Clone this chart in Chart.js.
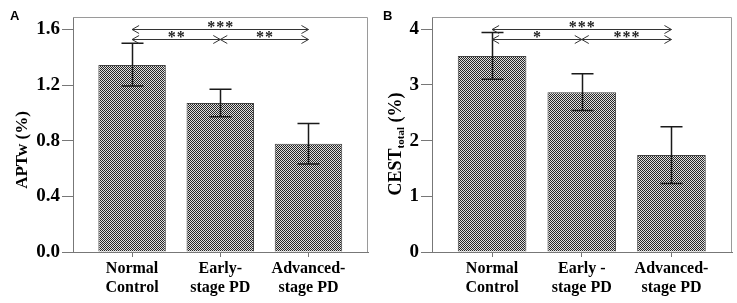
<!DOCTYPE html>
<html>
<head>
<meta charset="utf-8">
<script src="https://cdn.jsdelivr.net/npm/chart.js@4"></script>
<style>
  body { margin: 0; background: #fff; }
  .wrap { display: flex; }
  canvas { display: block; }
</style>
</head>
<body>
<div class="wrap">
  <canvas id="APTWchart" width="370" height="303"></canvas>
  <canvas id="CESTchart" width="367" height="303"></canvas>
</div>
<script>
const categoriesA = [['Normal', 'Control'], ['Early-', 'stage PD'], ['Advanced-', 'stage PD']];
const categoriesB = [['Normal', 'Control'], ['Early -', 'stage PD'], ['Advanced-', 'stage PD']];

const aptwMean = [1.345, 1.072, 0.778];
const aptwLow = [1.194, 0.973, 0.632];
const aptwHigh = [1.502, 1.170, 0.925];

const cestMean = [3.52, 2.87, 1.74];
const cestLow = [3.10, 2.54, 1.23];
const cestHigh = [3.94, 3.20, 2.25];

const yTicksA = [0, 0.4, 0.8, 1.2, 1.6];
const yTicksB = [0, 1, 2, 3, 4];

// significance brackets: [from, to, level, stars]
const sigA = [[0, 2, 1.605, '***'], [0, 1, 1.535, '**'], [1, 2, 1.535, '**']];
const sigB = [[0, 2, 4.0, '***'], [0, 1, 3.82, '*'], [1, 2, 3.82, '***']];

const serif = '"Liberation Serif", "Times New Roman", serif';

// fine checker fill like the original bars
function makePattern() {
  const tile = document.createElement('canvas');
  tile.width = 2;
  tile.height = 2;
  const t = tile.getContext('2d');
  t.fillStyle = '#e0e0e0';
  t.fillRect(0, 0, 2, 2);
  t.fillStyle = '#262626';
  t.fillRect(0, 0, 1, 1);
  t.fillRect(1, 1, 1, 1);
  return t.createPattern(tile, 'repeat');
}

function arrowHead(ctx, x, y, dir) {
  ctx.moveTo(x - dir * 7, y - 4);
  ctx.lineTo(x, y);
  ctx.lineTo(x - dir * 7, y + 4);
}

function panelPlugin(cfg) {
  return {
    id: 'panel' + cfg.letter,
    afterDraw(chart) {
      const ctx = chart.ctx;
      const area = chart.chartArea;
      const xs = chart.scales.x;
      const ys = chart.scales.y;
      ctx.save();

      // top and right side of the frame
      ctx.strokeStyle = '#9a9a9a';
      ctx.lineWidth = 1;
      ctx.beginPath();
      ctx.moveTo(area.left, area.top + 0.5);
      ctx.lineTo(area.right - 0.5, area.top + 0.5);
      ctx.lineTo(area.right - 0.5, area.bottom);
      ctx.stroke();

      // error bars
      ctx.strokeStyle = '#1a1a1a';
      ctx.lineWidth = 1.5;
      cfg.low.forEach((lo, i) => {
        const x = Math.round(xs.getPixelForValue(i)) + 0.5;
        const yLo = ys.getPixelForValue(lo);
        const yHi = ys.getPixelForValue(cfg.high[i]);
        ctx.beginPath();
        ctx.moveTo(x, yLo);
        ctx.lineTo(x, yHi);
        ctx.moveTo(x - 11, yLo);
        ctx.lineTo(x + 11, yLo);
        ctx.moveTo(x - 11, yHi);
        ctx.lineTo(x + 11, yHi);
        ctx.stroke();
      });

      // brackets with arrows and stars
      ctx.strokeStyle = '#333';
      ctx.lineWidth = 1;
      ctx.fillStyle = '#222';
      ctx.font = 'bold 16px ' + serif;
      ctx.textAlign = 'center';
      ctx.textBaseline = 'alphabetic';
      cfg.sig.forEach(s => {
        const x1 = xs.getPixelForValue(s[0]);
        const x2 = xs.getPixelForValue(s[1]);
        const y = Math.round(ys.getPixelForValue(s[2])) + 0.5;
        ctx.beginPath();
        ctx.moveTo(x1, y);
        ctx.lineTo(x2, y);
        arrowHead(ctx, x1, y, -1);
        arrowHead(ctx, x2, y, 1);
        ctx.stroke();
        const cx = (x1 + x2) / 2;
        const n = s[3].length;
        for (let k = 0; k < n; k++) {
          ctx.fillText('*', cx + (k - (n - 1) / 2) * 9, y + 2);
        }
      });

      // y axis title
      ctx.fillStyle = '#000';
      ctx.translate(cfg.titleX, cfg.titleY);
      ctx.rotate(-Math.PI / 2);
      ctx.textAlign = 'left';
      let w = 0;
      cfg.title.forEach(p => {
        ctx.font = 'bold ' + p[1] + 'px ' + serif;
        w += ctx.measureText(p[0]).width;
      });
      let pos = -w / 2;
      cfg.title.forEach(p => {
        ctx.font = 'bold ' + p[1] + 'px ' + serif;
        ctx.fillText(p[0], pos, p[2]);
        pos += ctx.measureText(p[0]).width;
      });
      ctx.restore();

      // panel letter
      ctx.save();
      ctx.fillStyle = '#000';
      ctx.font = 'bold 13px "Liberation Sans", Arial, sans-serif';
      ctx.textAlign = 'left';
      ctx.textBaseline = 'alphabetic';
      ctx.fillText(cfg.letter, cfg.letterX, 20);
      ctx.restore();
    }
  };
}

function makeChart(id, cfg) {
  return new Chart(document.getElementById(id), {
    type: 'bar',
    data: {
      datasets: [{
        data: cfg.mean.map((v, i) => ({ x: i, y: v })),
        backgroundColor: makePattern(),
        borderColor: '#444',
        borderWidth: 1,
        categoryPercentage: 1,
        barPercentage: 0.765
      }]
    },
    options: {
      responsive: false,
      animation: false,
      layout: {
        padding: { top: 17, right: cfg.padRight, left: 0, bottom: 0 }
      },
      scales: {
        x: {
          type: 'linear',
          offset: false,
          min: -0.67,
          max: 2.675,
          afterFit: s => { s.height = 51; },
          afterBuildTicks: s => { s.ticks = cfg.categories.map((c, i) => ({ value: i })); },
          ticks: {
            callback: v => cfg.categories[v],
            font: { family: serif, size: 16, weight: 'bold', lineHeight: 1.15 },
            color: '#000',
            padding: 3,
            maxRotation: 0,
            autoSkip: false
          },
          grid: { drawOnChartArea: false, offset: false, tickLength: 5, color: '#777' },
          border: { color: '#777' }
        },
        y: {
          min: 0,
          max: cfg.yMax,
          afterFit: s => { s.width = cfg.axisLeft; },
          afterBuildTicks: s => { s.ticks = cfg.yTicks.map(v => ({ value: v })); },
          ticks: {
            callback: cfg.tickFmt,
            font: { family: serif, size: 19, weight: 'bold' },
            color: '#000',
            padding: 2
          },
          grid: { drawOnChartArea: false, tickLength: 11, color: '#777' },
          border: { color: '#777' }
        }
      },
      plugins: {
        legend: { display: false },
        tooltip: { enabled: false }
      }
    },
    plugins: [panelPlugin(cfg)]
  });
}

const chartA = makeChart('APTWchart', {
  letter: 'A',
  letterX: 10,
  categories: categoriesA,
  mean: aptwMean,
  low: aptwLow,
  high: aptwHigh,
  sig: sigA,
  yTicks: yTicksA,
  yMax: 1.69,
  tickFmt: v => v.toFixed(1),
  axisLeft: 73,
  padRight: 2,
  title: [['APTw (%)', 17, 0]],
  titleX: 27,
  titleY: 150
});

const chartB = makeChart('CESTchart', {
  letter: 'B',
  letterX: 13,
  categories: categoriesB,
  mean: cestMean,
  low: cestLow,
  high: cestHigh,
  sig: sigB,
  yTicks: yTicksB,
  yMax: 4.22,
  tickFmt: v => String(v),
  axisLeft: 62,
  padRight: 5,
  title: [['CEST', 18, 0], ['total', 11, 3], [' (%)', 18, 0]],
  titleX: 31,
  titleY: 144
});
</script>
</body>
</html>
